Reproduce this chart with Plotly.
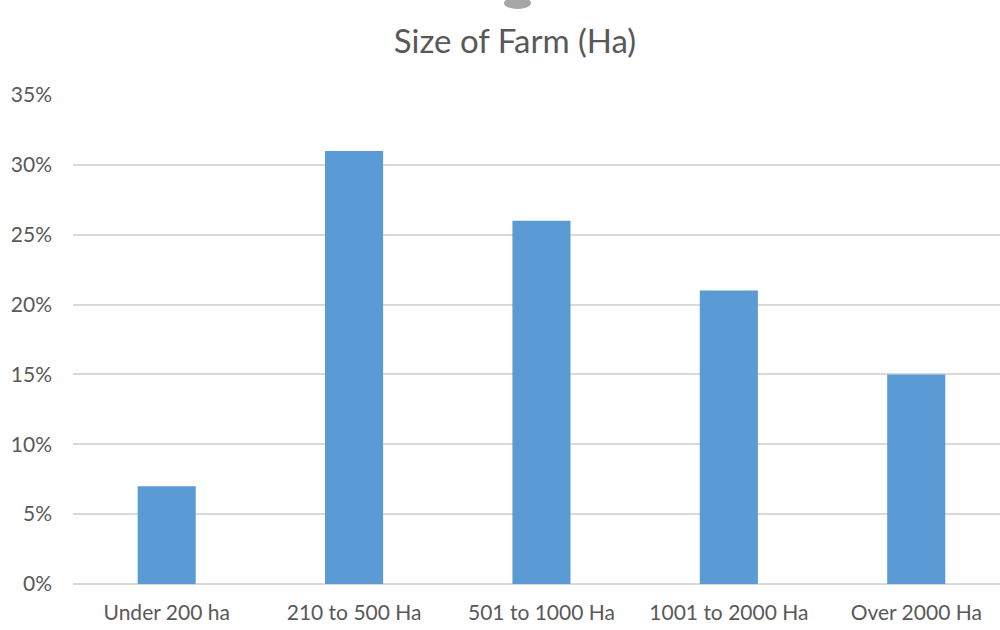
import plotly.graph_objects as go

categories = ["Under 200 ha", "210 to 500 Ha", "501 to 1000 Ha", "1001 to 2000 Ha", "Over 2000 Ha"]
shares = [0.07, 0.31, 0.26, 0.21, 0.15]
y_ticks = [0, 0.05, 0.10, 0.15, 0.20, 0.25, 0.30, 0.35]

FONT = "Lato, 'Open Sans', sans-serif"
TEXT = "#595959"
GRID = "#d9d9d9"

# plot area in pixels
L, R, T, B = 73, 0, 95, 46
PW, PH = 1000 - L - R, 630 - T - B


def px_x(p):
    return (p - L) / PW


def px_y(p):
    return (630 - B - p) / PH


fig = go.Figure(
    go.Bar(
        x=list(range(len(categories))),
        y=shares,
        width=0.31,
        marker=dict(color="#5b9bd5", line=dict(width=0)),
    )
)

fig.update_layout(
    width=1000,
    height=630,
    margin=dict(l=L, r=R, t=T, b=B),
    paper_bgcolor="white",
    plot_bgcolor="white",
    showlegend=False,
    title=dict(
        text="Size of Farm (Ha)",
        x=0.515,
        xanchor="center",
        y=1 - 41 / 630,
        yanchor="middle",
        font=dict(family=FONT, size=33, color=TEXT),
    ),
    xaxis=dict(
        range=[-0.5, 4.447],
        tickmode="array",
        tickvals=list(range(len(categories))),
        ticktext=categories,
        showgrid=False,
        zeroline=False,
        showline=False,
        ticks="",
        ticklabelstandoff=14,
        tickfont=dict(family=FONT, size=21, color=TEXT),
    ),
    yaxis=dict(
        range=[0, 0.35],
        tickmode="array",
        tickvals=y_ticks,
        tickformat=".0%",
        showgrid=True,
        gridcolor=GRID,
        gridwidth=2,
        zeroline=True,
        zerolinecolor=GRID,
        zerolinewidth=2,
        showline=False,
        ticks="",
        ticklabelstandoff=20,
        tickfont=dict(family=FONT, size=21, color=TEXT),
    ),
    shapes=[
        dict(
            type="circle",
            xref="paper",
            yref="paper",
            x0=px_x(504),
            x1=px_x(531),
            y0=px_y(9),
            y1=px_y(-3),
            fillcolor="#a6a6a6",
            line=dict(width=0),
        )
    ],
)

fig.write_html("out.html")
